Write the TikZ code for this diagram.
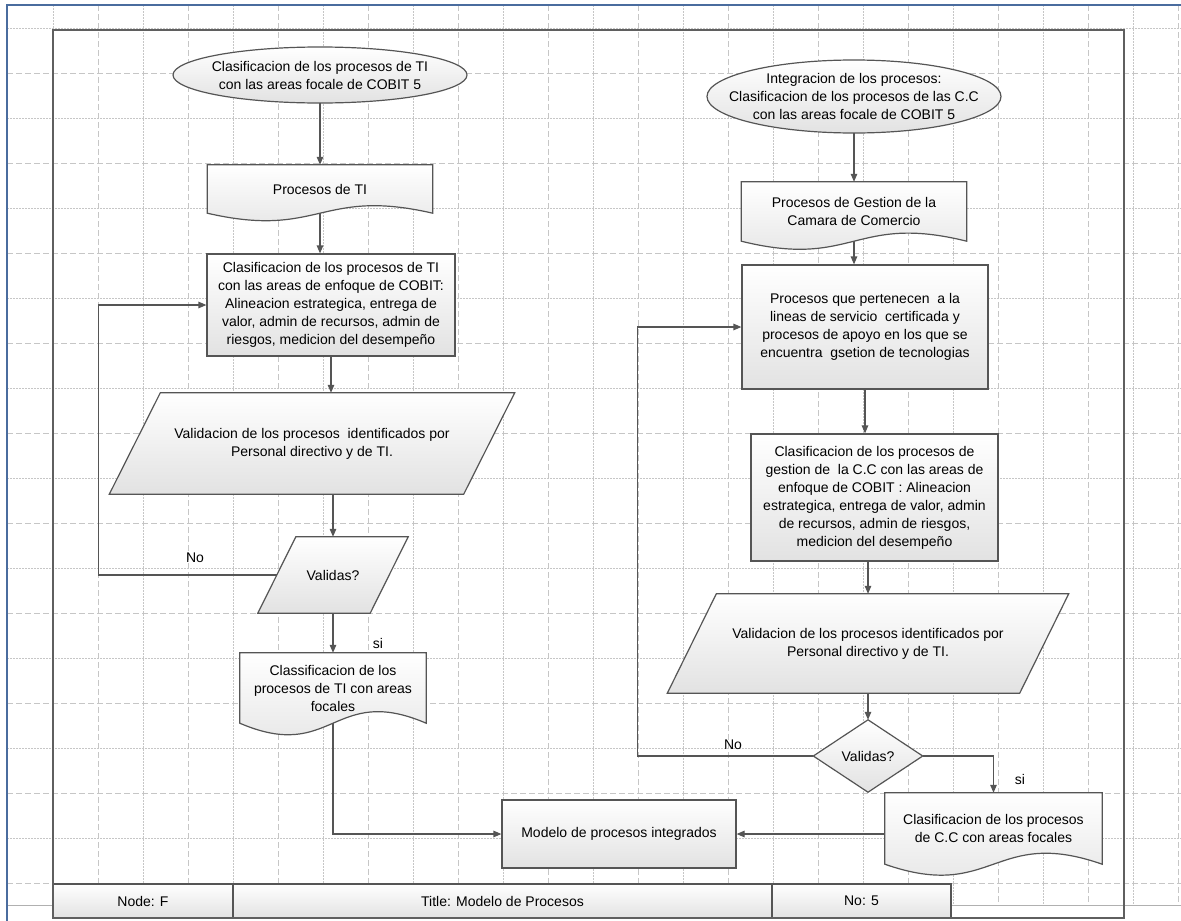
\documentclass[tikz,border=0pt]{standalone}
\usepackage{fontspec}
\setmainfont{Liberation Sans}
\usetikzlibrary{calc,arrows.meta}
\pgfdeclarelayer{bg}
\pgfsetlayers{bg,main}
\definecolor{gridcol}{HTML}{C6C6C6}
\definecolor{bordercol}{HTML}{555555}
\definecolor{framecol}{HTML}{5F5F5F}
\definecolor{fillbot}{HTML}{E2E2E2}
\definecolor{bluecol}{HTML}{4A6C9E}
\definecolor{pagecol}{HTML}{B0B0B0}
\newcommand{\myfont}{\fontsize{14}{18}\selectfont}
\newcommand{\mydocshape}[2]{\path[shp] (#1.north west) -- (#1.north east) -- (#1.south east) .. controls ($(#1.south)+(0,-#2)$) and ($(#1.south)+(0,#2)$) .. (#1.south west) -- cycle;}
\newcommand{\myparashape}[2]{\path[shp] ($(#1.north west)+(#2,0)$) -- ($(#1.north east)+(#2,0)$) -- ($(#1.south east)+(-#2,0)$) -- ($(#1.south west)+(-#2,0)$) -- cycle;}
\begin{document}
\begin{tikzpicture}[x=1pt,y=-1pt,
  txt/.style={font=\myfont, align=center, inner sep=0pt, text=black},
  shp/.style={draw=bordercol, line width=1.2pt, top color=white, bottom color=fillbot},
  conn/.style={draw=bordercol, line width=1.2pt, -{Triangle[length=8pt,width=6.5pt]}},
  major/.style={draw=gridcol, line width=0.9pt, dash pattern=on 6pt off 3pt},
  minor/.style={draw=gridcol, line width=0.9pt, dash pattern=on 1.5pt off 1.5pt},
  lbl/.style={font=\myfont, inner sep=0pt, text=black}]
\useasboundingbox (0,0) rectangle (1181,921);
\begin{pgfonlayer}{bg}
\fill[white] (0,0) rectangle (1181,921);
\foreach \x in {53,143,...,1133} \draw[minor] (\x,5) -- (\x,905);
\foreach \x in {98,188,...,1178} \draw[major] (\x,5) -- (\x,905);
\foreach \y in {28,118,...,838} \draw[minor] (7,\y) -- (1181,\y);
\foreach \y in {73,163,...,883} \draw[major] (7,\y) -- (1181,\y);
\end{pgfonlayer}
\draw[pagecol, line width=1pt] (7,905) -- (53,905);
\draw[pagecol, line width=1pt] (951,905) -- (1181,905);
\draw[bluecol, line width=2pt] (7,921) -- (7,5) -- (1181,5);

% left column
\node[txt, minimum width=294, minimum height=56] (e1) at (320,75) {Clasificacion de los procesos de TI\\con las areas focale de COBIT 5};
\node[txt, minimum width=225, minimum height=48] (d1) at (320,189) {Procesos de TI};
\node[txt, shp, minimum width=248, minimum height=102] (r1) at (331,305) {Clasificacion de los procesos de TI\\con las areas de enfoque de COBIT:\\Alineacion estrategica, entrega de\\valor, admin de recursos, admin de\\riesgos, medicion del desempeño};
\node[txt, minimum width=354, minimum height=101] (p1) at (312,443.5) {Validacion de los procesos\ \ identificados por\\Personal directivo y de TI.};
\node[txt, minimum width=112, minimum height=76] (p2) at (333,575) {Validas?};
\node[txt, minimum width=186, minimum height=70] (d2) at (333,688) {Classificacion de los\\procesos de TI con areas\\focales};
\node[txt, shp, minimum width=234, minimum height=68] (m) at (619,834) {Modelo de procesos integrados};

% right column
\node[txt, minimum width=294, minimum height=73] (e2) at (854,96.5) {Integracion de los procesos:\\Clasificacion de los procesos de las C.C\\con las areas focale de COBIT 5};
\node[txt, minimum width=225, minimum height=59] (d3) at (854,211.5) {Procesos de Gestion de la\\Camara de Comercio};
\node[txt, shp, minimum width=246, minimum height=124] (r2) at (865,327) {Procesos que pertenecen\ \ a la\\lineas de servicio\ \ certificada y\\procesos de apoyo en los que se\\encuentra\ \ gsetion de tecnologias};
\node[txt, shp, minimum width=247, minimum height=127] (r3) at (874.5,497.5) {Clasificacion de los procesos de\\gestion de\ \ la C.C con las areas de\\enfoque de COBIT : Alineacion\\estrategica, entrega de valor, admin\\de recursos, admin de riesgos,\\medicion del desempeño};
\node[txt, minimum width=352, minimum height=99] (p3) at (868,643.5) {Validacion de los procesos identificados por\\Personal directivo y de TI.};
\node[txt, minimum width=109, minimum height=72] (dia) at (868,756) {Validas?};
\node[txt, minimum width=217, minimum height=71] (d4) at (993.5,828.5) {Clasificacion de los procesos\\de C.C con areas focales};

% shapes behind text
\begin{pgfonlayer}{bg}
\path[shp] (e1.center) ellipse [x radius=147pt, y radius=28pt];
\path[shp] (e2.center) ellipse [x radius=147pt, y radius=36.5pt];
\mydocshape{d1}{26}
\mydocshape{d2}{40}
\mydocshape{d3}{28}
\mydocshape{d4}{38}
\myparashape{p1}{25.5}
\myparashape{p2}{19}
\myparashape{p3}{24.5}
\path[shp] (dia.north) -- (dia.east) -- (dia.south) -- (dia.west) -- cycle;
\end{pgfonlayer}

% footer
\node[txt, shp, minimum width=180, minimum height=34] (f1) at (143,901) {Node: F};
\node[txt, shp, minimum width=539, minimum height=34] (f2) at (502.5,901) {Title: Modelo de Procesos};
\node[txt, shp, minimum width=179, minimum height=34] (f3) at (861.5,901) {No: 5};
\draw[framecol, line width=1.8pt] (53,30) rectangle (1124,918);

% connectors left
\draw[conn] (e1.south) -- (e1.south |- d1.north);
\draw[conn] (d1.south) -- (d1.south |- r1.north);
\draw[conn] (r1.south) -- (r1.south |- p1.north);
\draw[conn] (p2.north |- p1.south) -- (p2.north);
\draw[conn] (p2.south) -- (p2.south |- d2.north);
\draw[conn] (p2.west) -- ++(-178,0) |- (r1.west);
\draw[conn] (d2.south) |- (m.west);
\node[lbl] (no1) at (195,558) {No};
\node[lbl] (si1) at (378,643) {si};

% connectors right
\draw[conn] (e2.south) -- (e2.south |- d3.north);
\draw[conn] (d3.south) -- (d3.south |- r2.north);
\draw[conn] (r2.south) -- (r2.south |- r3.north);
\draw[conn] (p3.north |- r3.south) -- (p3.north);
\draw[conn] (p3.south) -- (p3.south |- dia.north);
\draw[conn] (dia.west) -- ++(-176,0) |- (r2.west);
\draw[conn] (dia.east) -| (d4.north);
\draw[conn] (d4.west |- m.east) -- (m.east);
\node[lbl] (no2) at (733,745) {No};
\node[lbl] (si2) at (1020,779) {si};
\end{tikzpicture}
\end{document}
